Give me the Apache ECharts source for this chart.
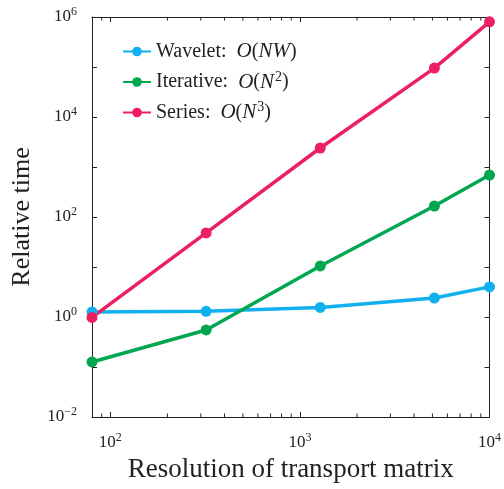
<!DOCTYPE html>
<html><head><meta charset="utf-8">
<script src="https://cdn.jsdelivr.net/npm/echarts@6/dist/echarts.min.js"></script>
<style>html,body{margin:0;padding:0;background:#fff}#c{width:504px;height:489px}</style>
</head><body><div id="c"></div>
<script>
var resolutions = [80, 320, 1280, 5120, 10000];
var wavelet = [1.26, 1.3, 1.55, 2.4, 4.0];
var iterative = [0.126, 0.55, 10.5, 166, 690];
var seriesT = [0.98, 48, 2400, 95000, 800000];
var names = ['Wavelet', 'Iterative', 'Series'];
var colors = ['#12b0ee', '#00a650', '#ec1f62'];
var xMin = 80, xMax = 10000, yMin = 0.01, yMax = 1e6;

var FONT = 'Liberation Serif';
var TXT = '#222';
function supLabel(v){
  var e = Math.round(Math.log10(v));
  if (Math.abs(Math.log10(v) - e) > 1e-6) return '';
  var s = e < 0 ? '\u2212' + (-e) : '' + e;
  return '{b|10}{s|' + s + '}';
}
var labelRich = {
  b: {fontFamily: FONT, fontSize: 17, color: TXT},
  s: {fontFamily: FONT, fontSize: 12, color: TXT, verticalAlign: 'top', padding: [0,0,10,0]}
};
// minor tick positions (2..9 x 10^k) inside the x range
var minorX = [];
for (var k = 1; k <= 3; k++) for (var m = 2; m <= 9; m++) {
  var v = m * Math.pow(10, k);
  if (v > xMin && v < xMax) minorX.push(v);
}
var chart = echarts.init(document.getElementById('c'));
var legendRich = {
  t: {fontFamily: FONT, fontSize: 20, color: TXT, lineHeight: 24},
  i: {fontFamily: FONT, fontSize: 21, color: TXT, fontStyle: 'italic', lineHeight: 24},
  s: {fontFamily: FONT, fontSize: 14, color: TXT, verticalAlign: 'top', lineHeight: 14, padding: [0,0,0,1]}
};
var legendFmt = {
  'Wavelet': '{t|Wavelet:  }{i|O}{t|(}{i|NW}{t|)}',
  'Iterative': '{t|Iterative:  }{i|O}{t|(}{i|N}{s|2}{t|)}',
  'Series': '{t|Series:  }{i|O}{t|(}{i|N}{s|3}{t|)}'
};
var axisLineStyle = {color: '#222', width: 1};
function tickRenderer(dir){
  return function(params, api){
    var p = api.coord([api.value(0), api.value(1)]);
    return {type: 'line', shape: {x1: p[0], y1: p[1], x2: p[0], y2: p[1] + dir * 3.5},
            style: {stroke: '#222', lineWidth: 1}};
  };
}
var bottomTicks = minorX.map(function(v){return [v, yMin];});
var topTicks = minorX.map(function(v){return [v, yMax];});
chart.setOption({
  animation: false,
  grid: {left: 92, right: 12, top: 17, bottom: 72},
  legend: {
    orient: 'vertical', left: 117, top: 36, itemWidth: 28, itemHeight: 12, itemGap: 8,
    data: names,
    formatter: function(n){ return legendFmt[n]; },
    textStyle: {rich: legendRich, fontFamily: FONT, fontSize: 20, color: TXT}
  },
  xAxis: [{
    type: 'log', logBase: 10, min: xMin, max: xMax, position: 'bottom',
    name: 'Resolution of transport matrix', nameLocation: 'middle', nameGap: 38,
    nameTextStyle: {fontFamily: FONT, fontSize: 27, color: TXT},
    axisLine: {lineStyle: axisLineStyle},
    axisTick: {inside: true, length: 5, lineStyle: axisLineStyle},
    axisLabel: {formatter: supLabel, rich: labelRich, margin: 15, showMinLabel: false},
    splitLine: {show: false}
  }, {
    type: 'log', logBase: 10, min: xMin, max: xMax, position: 'top',
    axisLine: {lineStyle: axisLineStyle},
    axisTick: {inside: true, length: 5, lineStyle: axisLineStyle},
    axisLabel: {show: false}, splitLine: {show: false}
  }],
  yAxis: [{
    type: 'log', logBase: 10, min: yMin, max: yMax, interval: 1, position: 'left',
    name: 'Relative time', nameLocation: 'middle', nameGap: 57,
    nameTextStyle: {fontFamily: FONT, fontSize: 26, color: TXT},
    axisLine: {show: true, lineStyle: axisLineStyle},
    axisTick: {show: true, inside: true, length: 5, lineStyle: axisLineStyle},
    axisLabel: {formatter: function(v){
        var e = Math.round(Math.log10(v));
        return (e % 2 === 0) ? supLabel(v) : '';
      }, rich: labelRich, margin: 15},
    splitLine: {show: false}
  }, {
    type: 'log', logBase: 10, min: yMin, max: yMax, interval: 1, position: 'right',
    axisLine: {show: true, lineStyle: axisLineStyle},
    axisTick: {show: true, inside: true, length: 5, lineStyle: axisLineStyle},
    axisLabel: {show: false}, splitLine: {show: false}
  }],
  series: [
    {name: names[0], type: 'line', data: resolutions.map(function(x,i){return [x, wavelet[i]];}),
     color: colors[0], symbol: 'circle', symbolSize: 11, lineStyle: {width: 3.5}, clip: false},
    {name: names[1], type: 'line', data: resolutions.map(function(x,i){return [x, iterative[i]];}),
     color: colors[1], symbol: 'circle', symbolSize: 11, lineStyle: {width: 3.5}, clip: false},
    {name: names[2], type: 'line', data: resolutions.map(function(x,i){return [x, seriesT[i]];}),
     color: colors[2], symbol: 'circle', symbolSize: 11, lineStyle: {width: 3.5}, clip: false},
    {type: 'custom', silent: true, clip: false, renderItem: tickRenderer(-1), data: bottomTicks, z: 5},
    {type: 'custom', silent: true, clip: false, renderItem: tickRenderer(1), data: topTicks, z: 5}
  ]
});
</script></body></html>
